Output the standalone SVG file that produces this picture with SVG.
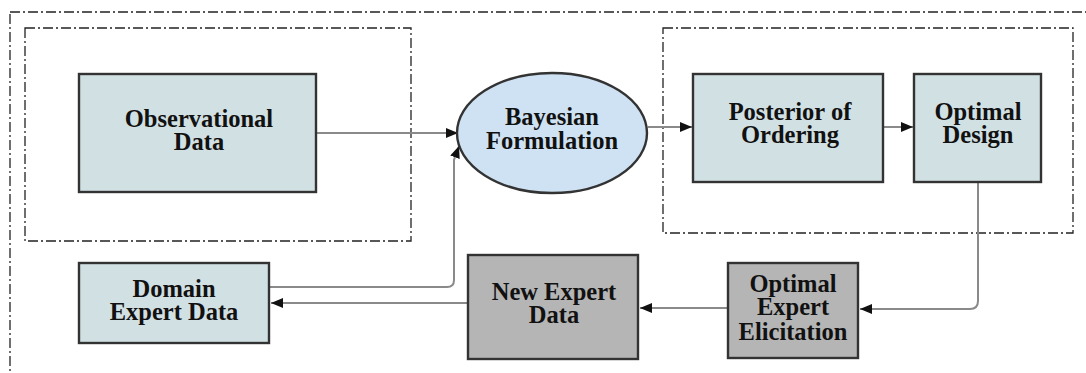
<svg xmlns="http://www.w3.org/2000/svg" width="1086" height="373" viewBox="0 0 1086 373">
  <style>
    .frame { fill: none; stroke: #222; stroke-width: 1.3; stroke-dasharray: 10 3 2 3; }
    .box { stroke: #333; stroke-width: 2.4; }
    .light { fill: #d1e0e3; }
    .dark { fill: #b5b5b5; }
    .oval { fill: #cfe2f3; stroke: #333; stroke-width: 2.4; }
    .label { font-family: "Liberation Serif", "Times New Roman", "DejaVu Serif", serif; font-weight: bold; font-size: 24.5px; fill: #111; text-anchor: middle; }
    .conn { fill: none; stroke: #8a8a8a; stroke-width: 2; marker-end: url(#arrow); }
  </style>
  <defs>
    <marker id="arrow" viewBox="0 0 12 10" refX="12" refY="5" markerWidth="12" markerHeight="10" markerUnits="userSpaceOnUse" orient="auto">
      <path d="M0,0 L12,5 L0,10 Z" fill="#111"/>
    </marker>
  </defs>
  <rect width="1086" height="373" fill="#fff"/>

  <!-- grouping frames -->
  <g id="frames">
    <rect class="frame" x="10" y="12" width="1100" height="400"/>
    <rect class="frame" x="25" y="28" width="386" height="213"/>
    <rect class="frame" x="663" y="28" width="410" height="205"/>
  </g>

  <!-- connectors -->
  <g id="connectors">
    <path class="conn" d="M316,133 H458"/>
    <path class="conn" d="M268,287 H447 Q454,287 454,280 V160 L459,146"/>
    <path class="conn" d="M648,127 H692"/>
    <path class="conn" d="M883,127 H913"/>
    <path class="conn" d="M978,182 V301 Q978,309 970,309 H860"/>
    <path class="conn" d="M728,308 H640"/>
    <path class="conn" d="M468,303 H271"/>
  </g>

  <g id="observational-data">
    <rect class="box light" x="79" y="74" width="237" height="118"/>
    <text class="label" y="127"><tspan x="199">Observational</tspan><tspan x="199" dy="23">Data</tspan></text>
  </g>

  <g id="bayesian-formulation">
    <ellipse class="oval" cx="552" cy="133" rx="95" ry="60"/>
    <text class="label" y="125"><tspan x="552">Bayesian</tspan><tspan x="552" dy="24">Formulation</tspan></text>
  </g>

  <g id="posterior-of-ordering">
    <rect class="box light" x="693" y="74" width="190" height="108"/>
    <text class="label" y="120"><tspan x="790">Posterior of</tspan><tspan x="790" dy="23">Ordering</tspan></text>
  </g>

  <g id="optimal-design">
    <rect class="box light" x="914" y="74" width="127" height="108"/>
    <text class="label" y="120"><tspan x="978">Optimal</tspan><tspan x="978" dy="23">Design</tspan></text>
  </g>

  <g id="domain-expert-data">
    <rect class="box light" x="79" y="263" width="190" height="80"/>
    <text class="label" y="297"><tspan x="174">Domain</tspan><tspan x="174" dy="23">Expert Data</tspan></text>
  </g>

  <g id="new-expert-data">
    <rect class="box dark" x="468" y="255" width="170" height="104"/>
    <text class="label" y="300"><tspan x="554">New Expert</tspan><tspan x="554" dy="23">Data</tspan></text>
  </g>

  <g id="optimal-expert-elicitation">
    <rect class="box dark" x="728" y="263" width="130" height="95"/>
    <text class="label" y="292"><tspan x="793">Optimal</tspan><tspan x="793" dy="23">Expert</tspan><tspan x="793" dy="25">Elicitation</tspan></text>
  </g>
</svg>
